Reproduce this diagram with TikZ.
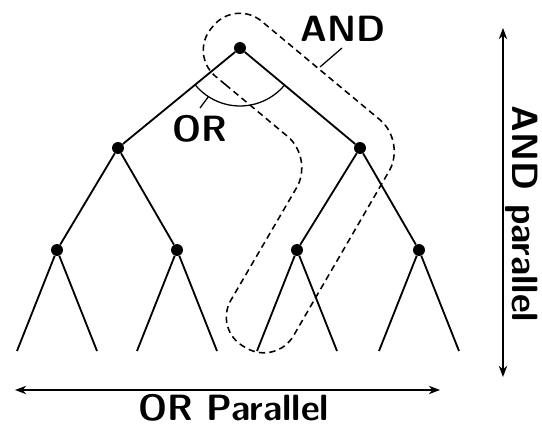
\documentclass[tikz,border=0pt]{standalone}
\usetikzlibrary{arrows.meta}

\begin{document}
\begin{tikzpicture}[x=0.025cm,y=0.025cm,
  dot/.style={circle,fill=black,inner sep=0pt,minimum size=8.5pt},
  edge/.style={line width=1.3pt},
  band/.style={line width=1.1pt,dash pattern=on 4.5pt off 3pt,rounded corners=0.85cm},
  lbl/.style={font=\fontsize{26}{30}\selectfont\sffamily\bfseries,inner sep=0pt},
  span/.style={line width=0.8pt,{Stealth[length=8pt,width=6pt]}-{Stealth[length=8pt,width=6pt]}}]
\useasboundingbox (0,0) rectangle (542,426);
% tree
\node[dot] (top) at (240,378) {};
\node[dot] (lft) at (118,278) {};
\node[dot] (rgt) at (360,278) {};
\draw[edge] (top) -- (lft) (top) -- (rgt);
\foreach \p/\q/\x in {ll/lft/57,lr/lft/177,rl/rgt/297,rr/rgt/419} {
  \node[dot] (\p) at (\x,176) {};
  \coordinate (\p a) at (\x-40,75);
  \coordinate (\p b) at (\x+40,75);
  \draw[edge] (\q) -- (\p);
  \draw[edge] (\p) -- (\p a) (\p) -- (\p b);
}
% AND region
\draw[band] (251.6,319.6) -- (189.4,371.4) -- (235.4,426.6) -- (406.2,284.3)
  -- (276.4,60.8) -- (213.8,96.6) -- (313.8,267.7) -- cycle;
\node[lbl,anchor=base] (andlbl) at (343,384) {AND};
\coordinate (andfoot) at (320,359);
\coordinate (andtip) at (342,378);
\draw[line width=0.9pt] (andfoot) -- (andtip);
% OR choice
\draw[line width=0.9pt] (top) ++(219.3:58) arc[start angle=219.3,end angle=320.2,radius=58];
\node[lbl,anchor=base] (orlbl) at (200,284) {OR};
\path (top) ++(237:58) coordinate (orfoot);
\coordinate (ortip) at (200,318);
\draw[line width=0.9pt] (orfoot) -- (ortip);
% axes
\coordinate (andhi) at (503,398);
\coordinate (andlo) at (503,49);
\draw[span] (andhi) -- (andlo);
\node[lbl,rotate=-90,anchor=base] (andpar) at (512,212) {AND parallel};
\coordinate (orl) at (15,36);
\coordinate (orr) at (440,36);
\draw[span] (orl) -- (orr);
\node[lbl,anchor=base] (orpar) at (234,5) {OR Parallel};
\end{tikzpicture}
\end{document}
